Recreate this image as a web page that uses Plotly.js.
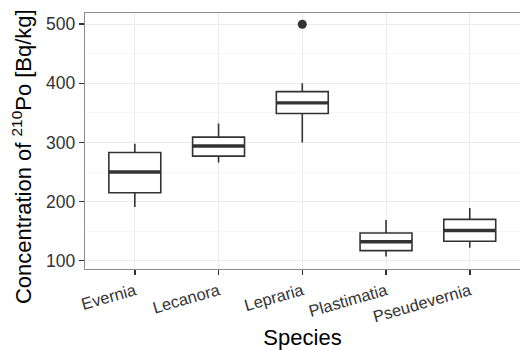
<!DOCTYPE html>
<html><head><meta charset="utf-8">
<script src="https://cdn.plot.ly/plotly-3.0.1.min.js"></script>
<style>body{margin:0}#c{width:520px;height:350px}</style>
</head><body><div id="c"></div>
<script>
const species = ["Evernia","Lecanora","Lepraria","Plastimatia","Pseudevernia"];
const lowerWhisker = [191, 266, 300, 107, 122];
const q1Vals = [215, 277, 349, 117, 133];
const medianVals = [250, 294, 367, 132, 151];
const q3Vals = [283, 309, 386, 147, 170];
const upperWhisker = [298, 332, 400, 169, 189];
const outlierSpecies = ["Lepraria"];
const outlierVals = [500];

const boxW = 0.62;
const idx = species.map((s,i)=>i);
const traces = [];
traces.push({
  type:'box', x: idx, q1:q1Vals, median:medianVals, q3:q3Vals,
  lowerfence:lowerWhisker, upperfence:upperWhisker,
  width: boxW, whiskerwidth:0, fillcolor:'#ffffff',
  line:{color:'#333333', width:1.6}, boxpoints:false, hoverinfo:'skip', showlegend:false
});
// thicker median lines
const mx=[], my=[];
idx.forEach(i=>{ mx.push(i-boxW/2, i+boxW/2, null); my.push(medianVals[i], medianVals[i], null); });
traces.push({type:'scatter', mode:'lines', x:mx, y:my, line:{color:'#333333', width:3.4}, showlegend:false, hoverinfo:'skip'});
traces.push({type:'scatter', mode:'markers', x: outlierSpecies.map(s=>species.indexOf(s)), y: outlierVals,
  marker:{color:'#333333', size:9}, showlegend:false, hoverinfo:'skip'});

const layout = {
  width:520, height:350,
  margin:{l:85, r:0, t:13, b:81},
  paper_bgcolor:'#ffffff', plot_bgcolor:'#ffffff',
  font:{family:'Liberation Sans, Arial, sans-serif', color:'#000'},
  xaxis:{
    range:[-0.595, 4.6], tickvals: idx, ticktext: species, tickangle:-16,
    showgrid:true, gridcolor:'#ebebeb', gridwidth:1, zeroline:false,
    ticks:'outside', ticklen:5, tickwidth:1.5, tickcolor:'#333333',
    tickfont:{size:16.5, color:'#333333'},
    showline:true, mirror:true, linecolor:'#8c8c8c', linewidth:1.2,
    title:{text:'Species', font:{size:22, color:'#000'}, standoff:8}
  },
  yaxis:{
    range:[86, 519], tick0:0, dtick:100,
    showgrid:true, gridcolor:'#ebebeb', gridwidth:1, zeroline:false,
    minor:{dtick:50, tick0:0, showgrid:true, gridcolor:'#f5f5f5', gridwidth:1, ticks:''},
    ticks:'outside', ticklen:5, tickwidth:1.5, tickcolor:'#333333',
    tickfont:{size:17.5, color:'#333333'},
    showline:true, mirror:true, linecolor:'#8c8c8c', linewidth:1.2
  },
  annotations:[{
    text:'Concentration of <sup>210</sup>Po [Bq/kg]', textangle:-90,
    xref:'paper', yref:'paper', x:-0.145, y:0.441, xanchor:'center', yanchor:'middle',
    showarrow:false, font:{size:22, color:'#000'}
  }]
};
Plotly.newPlot('c', traces, layout, {staticPlot:true, displayModeBar:false});
</script></body></html>
